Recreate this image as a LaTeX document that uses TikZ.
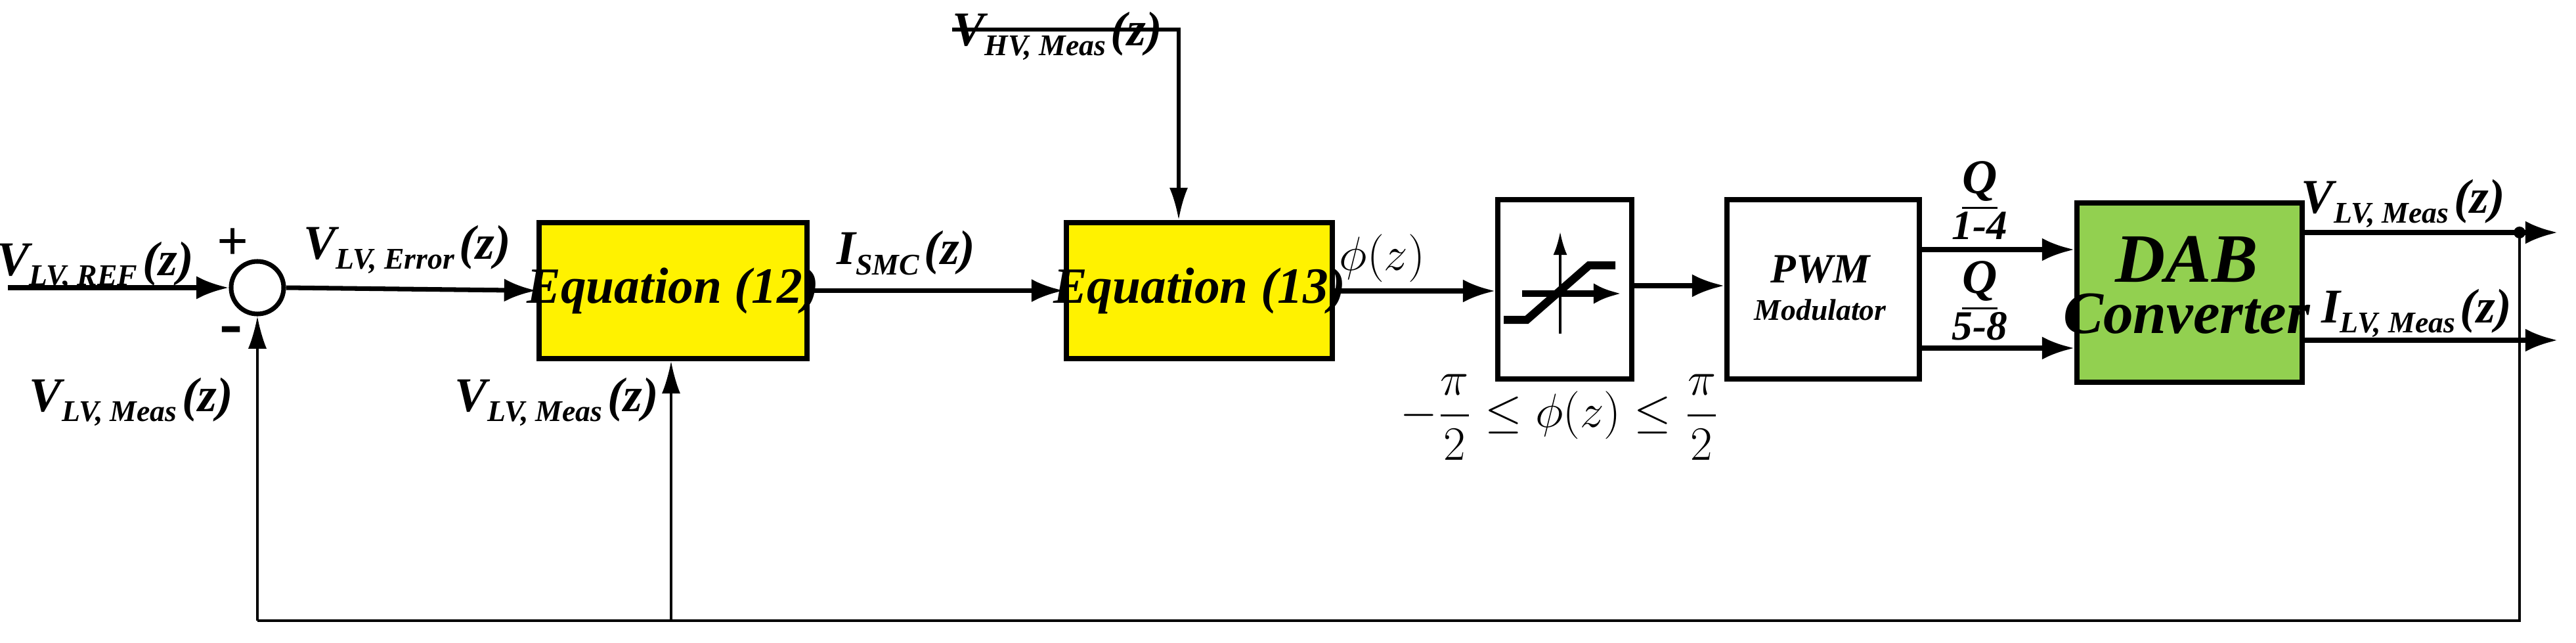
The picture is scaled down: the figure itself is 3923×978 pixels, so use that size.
\documentclass[tikz,border=0pt]{standalone}
\usepackage{amsmath}
\usepackage{fontspec}
\setmainfont{Liberation Serif}
\usetikzlibrary{arrows.meta}
\newcommand\sbs[1]{\raisebox{-0.45ex}{\fontsize{13}{14}\selectfont #1\,}}
\begin{document}
\begin{tikzpicture}[x=0.01cm,y=-0.01cm,
  blk/.style={draw,line width=2.2pt,inner sep=0,anchor=north west},
  sig/.style={line width=2pt,-{Latex[length=14pt,width=10pt]}},
  fb/.style={line width=1pt,-{Latex[length=14pt,width=8pt]}},
  lab/.style={font=\bfseries\itshape\fontsize{21}{24}\selectfont,inner sep=0}]
\useasboundingbox (0,0) rectangle (3923,978);
% blocks
\node[blk,fill=yellow,minimum width=4.08cm,minimum height=2.07cm] (e12) at (817,335) {};
\node[font=\bfseries\itshape\fontsize{22}{24}\selectfont] at (e12.center) {Equation (12)};
\node[blk,fill=yellow,minimum width=4.05cm,minimum height=2.07cm] (e13) at (1620,335) {};
\node[font=\bfseries\itshape\fontsize{22}{24}\selectfont] at (e13.center) {Equation (13)};
\node[blk,fill=white,minimum width=2.04cm,minimum height=2.73cm] (sat) at (2277,300) {};
\node[blk,fill=white,minimum width=2.93cm,minimum height=2.73cm] (pwm) at (2626,300) {};
\node[font=\bfseries\itshape\fontsize{18}{20}\selectfont] at (2772,410) {PWM};
\node[font=\bfseries\itshape\fontsize{13}{14}\selectfont] at (2772,472) {Modulator};
\node[blk,fill={rgb,255:red,146;green,208;blue,80},minimum width=3.43cm,minimum height=2.73cm] (dab) at (3159,305) {};
\node[font=\bfseries\itshape\fontsize{30}{32}\selectfont] at (3330,395) {DAB};
\node[font=\bfseries\itshape\fontsize{26}{28}\selectfont] at (3330,478) {Converter};
\node[draw,circle,line width=2pt,minimum size=0.8cm,inner sep=0] (sum) at (392,438) {};
% saturation icon
\draw[line width=1pt,-{Latex[length=10pt,width=6pt]}] (2376,508) -- (2376,353);
\draw[line width=3pt,-{Latex[length=12pt,width=9pt]}] (2318,447) -- (2469,447);
\draw[line width=3.5pt] (2290,487) -- (2325,487) -- (2420,404) -- (2460,404);
% coordinates
\coordinate (in) at (12,438);
\coordinate (hv) at (1450,45);
\coordinate (hvc) at (1795,45);
\coordinate (dot) at (3837,354);
\coordinate (vout) at (3895,354);
\coordinate (iout) at (3895,518);
\coordinate (b1) at (3837,945);
\coordinate (b2) at (392,945);
\coordinate (b3) at (1022,945);
% connectors
\draw[sig] (in) -- (sum.west);
\draw[sig] (sum.east) -- (e12.west);
\draw[sig] (e12.east) -- (e13.west);
\draw[line width=1.5pt,-{Latex[length=14pt,width=8pt]}] (hv) -- (hvc) -- (e13.north -| hvc);
\draw[sig] (e13.east |- 0,443) -- (sat.west |- 0,443);
\draw[sig] (sat.east |- 0,435) -- (pwm.west |- 0,435);
\draw[sig] (pwm.east |- 0,380) -- (dab.west |- 0,380);
\draw[sig] (pwm.east |- 0,530) -- (dab.west |- 0,530);
\draw[sig] (dab.east |- dot) -- (vout);
\draw[sig] (dab.east |- iout) -- (iout);
\fill (dot) circle (9);
\draw[line width=1pt] (dot) -- (b1) -- (b2);
\draw[fb] (b2) -- (sum.south);
\draw[fb] (b3) -- (e12.south -| b3);
% labels
\node[lab] at (145,405) {V\sbs{LV, REF}(z)};
\node[font=\bfseries\fontsize{24}{26}\selectfont] at (355,372) {+};
\node[font=\bfseries\fontsize{30}{26}\selectfont] at (352,512) {-};
\node[lab] at (200,612) {V\sbs{LV, Meas}(z)};
\node[lab] at (620,380) {V\sbs{LV, Error}(z)};
\node[lab] at (848,612) {V\sbs{LV, Meas}(z)};
\node[lab] at (1380,385) {I\sbs{SMC}(z)};
\node[lab] at (1610,55) {V\sbs{HV, Meas}(z)};
\node[inner sep=0,font=\fontsize{22}{24}\selectfont] at (2105,393) {$\phi(z)$};
\node[inner sep=0,font=\fontsize{22}{24}\selectfont] at (2375,635) {$-\dfrac{\pi}{2}\le\phi(z)\le\dfrac{\pi}{2}$};
\node[lab,align=center] at (3015,305) {\underline{Q}\\[-4pt]{\fontsize{18}{20}\selectfont 1-4}};
\node[lab,align=center] at (3015,458) {\underline{Q}\\[-4pt]{\fontsize{18}{20}\selectfont 5-8}};
\node[lab] at (3660,310) {V\sbs{LV, Meas}(z)};
\node[lab] at (3680,477) {I\sbs{LV, Meas}(z)};
\end{tikzpicture}
\end{document}
